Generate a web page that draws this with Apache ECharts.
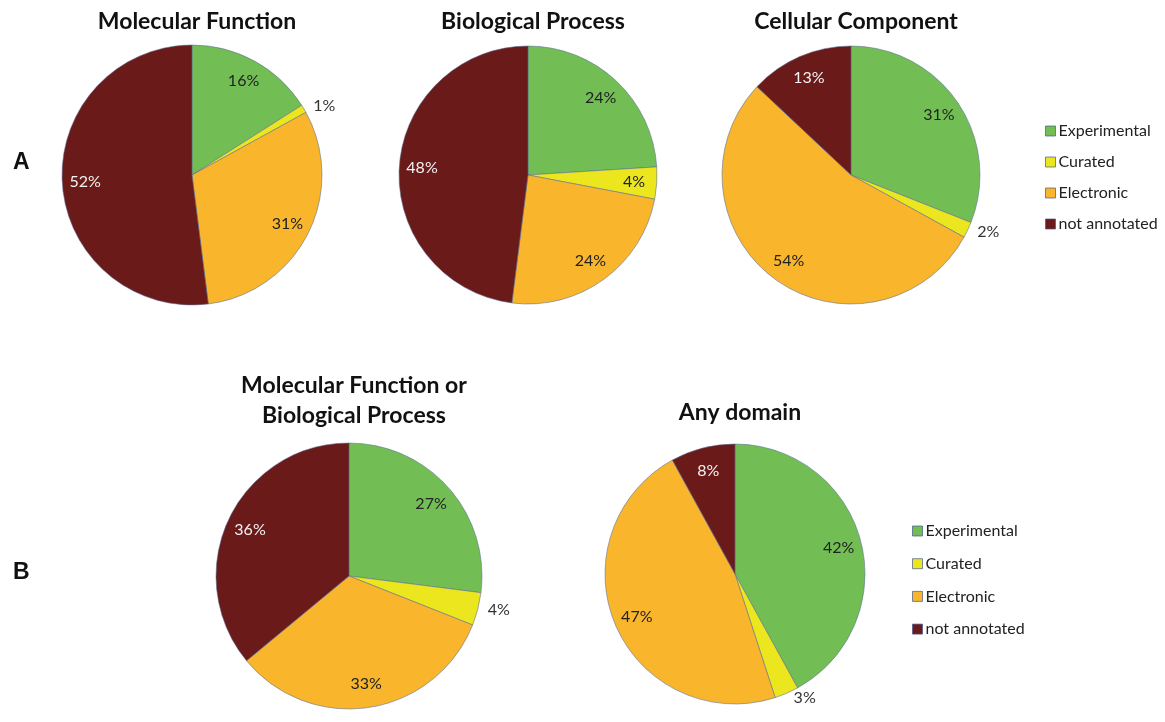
<!DOCTYPE html>
<html>
<head>
<meta charset="utf-8">
<style>
  html, body { margin: 0; padding: 0; background: #fff; }
  #chart { width: 1165px; height: 722px; }
</style>
<script src="https://cdn.jsdelivr.net/npm/echarts@6/dist/echarts.min.js"></script>
</head>
<body>
<div id="chart"></div>
<script>
// categories (same order in every pie, clockwise from 12 o'clock)
const categories = ['Experimental', 'Curated', 'Electronic', 'not annotated']
// percentages
const molecularFunction = [16, 1, 31, 52]
const biologicalProcess = [24, 4, 24, 48]
const cellularComponent = [31, 2, 54, 13]
const mfOrBp = [27, 4, 33, 36]
const anyDomain = [42, 3, 47, 8]

const colors = ['#72be55', '#ece61f', '#f9b52b', '#6b1a1a']
const font = 'Lato, "Open Sans", sans-serif'

// layout of each pie
const pies = [
  { title: 'Molecular Function', values: molecularFunction, center: [192, 175], r: 130, titleY: 2, outside: ['Curated'] },
  { title: 'Biological Process', values: biologicalProcess, center: [528, 175], r: 129, titleY: 2, outside: [] },
  { title: 'Cellular Component', values: cellularComponent, center: [851, 175], r: 129, titleY: 2, outside: ['Curated'] },
  { title: 'Molecular Function or\nBiological Process', values: mfOrBp, center: [349, 576], r: 133, titleY: 366, outside: ['Curated'] },
  { title: 'Any domain', values: anyDomain, center: [735, 574], r: 130, titleY: 393, outside: ['Curated'] }
]

const series = []
const titles = []
pies.forEach(function(p)
{
  const data = categories.map(function(name, i)
  {
    return { name: name, value: p.values[i] }
  })
  // the pie itself
  series.push({
    type: 'pie',
    center: p.center,
    radius: [0, p.r],
    startAngle: 90,
    clockwise: true,
    animation: false,
    label: { show: false },
    labelLine: { show: false },
    itemStyle: { borderColor: 'rgba(90,110,150,0.55)', borderWidth: 1 },
    data: data
  })
  // transparent ring only used to put the labels at ~0.8 of the radius
  series.push({
    type: 'pie',
    center: p.center,
    radius: [p.r * 0.6, p.r],
    startAngle: 90,
    clockwise: true,
    animation: false,
    silent: true,
    itemStyle: { color: 'transparent', borderWidth: 0 },
    label: {
      show: true,
      position: 'inside',
      formatter: '{c}%',
      fontFamily: font,
      fontSize: 16,
      color: '#222'
    },
    labelLine: { show: false, length: 5, length2: 0 },
    data: data.map(function(d)
    {
      const item = { name: d.name, value: d.value }
      if (p.outside.indexOf(d.name) >= 0)
        item.label = { position: 'outside', color: '#333' }
      else if (d.name === 'not annotated')
        item.label = { color: '#f2f2f2' }
      return item
    })
  })
  titles.push({
    text: p.title,
    left: p.center[0],
    top: p.titleY,
    textAlign: 'center',
    textStyle: { fontFamily: font, fontSize: 23, fontWeight: 'bold', color: '#111', lineHeight: 30 }
  })
})

// panel letters
const letterStyle = { fontFamily: '"Liberation Sans", Arial, sans-serif', fontSize: 23, fontWeight: 'bold', color: '#111' }
titles.push({ text: 'A', left: 8, top: 146, textStyle: letterStyle })
titles.push({ text: 'B', left: 8, top: 556, textStyle: letterStyle })

const legendBase = {
  data: categories,
  orient: 'vertical',
  icon: 'rect',
  itemWidth: 10,
  itemHeight: 10,
  itemGap: 15,
  selectedMode: false,
  itemStyle: { borderColor: 'rgba(70,90,140,0.7)', borderWidth: 1 },
  textStyle: { fontFamily: font, fontSize: 16, color: '#222', padding: [0, 0, 0, -2] }
}

const option = {
  color: colors,
  backgroundColor: '#fff',
  title: titles,
  legend: [
    Object.assign({}, legendBase, { left: 1040, top: 118 }),
    Object.assign({}, legendBase, { left: 907, top: 518, itemGap: 16.7 })
  ],
  series: series
}

const chart = echarts.init(document.getElementById('chart'))
chart.setOption(option)
</script>
</body>
</html>
